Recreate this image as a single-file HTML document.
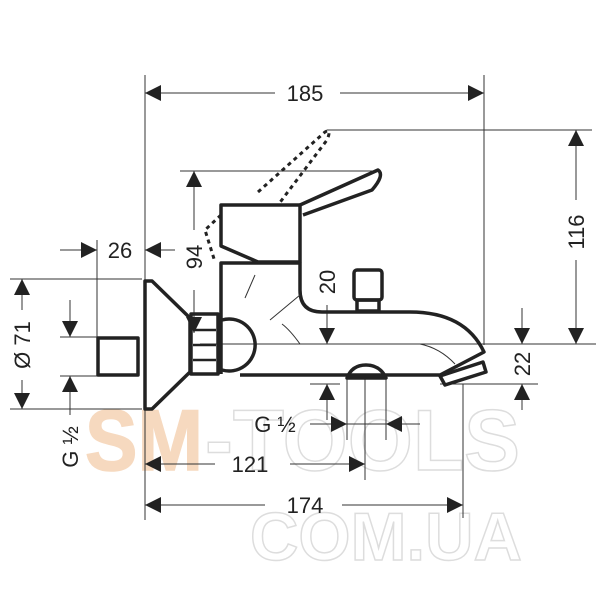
<!DOCTYPE html>
<html><head><meta charset="utf-8"><style>html,body{margin:0;padding:0;background:#fff}svg{display:block}</style></head>
<body>
<svg width="600" height="600" viewBox="0 0 600 600" xmlns="http://www.w3.org/2000/svg" font-family="Liberation Sans, sans-serif">
<defs>
<marker id="a" viewBox="0 0 10 10" refX="10" refY="5" markerWidth="16" markerHeight="16" markerUnits="userSpaceOnUse" orient="auto"><path d="M0,0L10,5L0,10z" fill="#222"/></marker>
</defs>
<!-- watermark -->
<g font-size="86" font-weight="bold" stroke-width="1.5">
<text x="85" y="470" fill="#f6d9bf" stroke="#f6d9bf" textLength="118" lengthAdjust="spacingAndGlyphs">SM</text>
<text x="205" y="470" fill="none" stroke="#ddd" textLength="315" lengthAdjust="spacingAndGlyphs">-TOOLS</text>
<text x="250" y="560" font-size="68" fill="none" stroke="#ddd" textLength="272" lengthAdjust="spacingAndGlyphs">COM.UA</text>
</g>
<g stroke="#333" stroke-width="1" fill="none">
<line x1="145" y1="75" x2="145" y2="520"/>
<line x1="484" y1="75" x2="484" y2="345"/>
<line x1="327" y1="130" x2="592" y2="130"/>
<line x1="200" y1="344" x2="596" y2="344"/>
<line x1="440" y1="384" x2="538" y2="384"/>
<line x1="180" y1="171" x2="380" y2="171"/>
<line x1="10" y1="279" x2="142" y2="279"/>
<line x1="10" y1="409" x2="142" y2="409"/>
<line x1="60" y1="337" x2="100" y2="337"/>
<line x1="60" y1="376" x2="100" y2="376"/>
<line x1="97" y1="240" x2="97" y2="337"/>
<line x1="347" y1="375" x2="347" y2="440"/>
<line x1="365" y1="375" x2="365" y2="480"/>
<line x1="386" y1="375" x2="386" y2="440"/>
<line x1="463" y1="384" x2="463" y2="518"/>
<line x1="310" y1="384" x2="340" y2="384"/>
<line x1="275" y1="93" x2="145" y2="93" marker-end="url(#a)"/>
<line x1="340" y1="93" x2="484" y2="93" marker-end="url(#a)"/>
<line x1="576" y1="200" x2="576" y2="130" marker-end="url(#a)"/>
<line x1="576" y1="260" x2="576" y2="344" marker-end="url(#a)"/>
<line x1="522" y1="308" x2="522" y2="344" marker-end="url(#a)"/>
<line x1="522" y1="410" x2="522" y2="384" marker-end="url(#a)"/>
<line x1="327" y1="305" x2="327" y2="344" marker-end="url(#a)"/>
<line x1="327" y1="420" x2="327" y2="384" marker-end="url(#a)"/>
<line x1="194" y1="230" x2="194" y2="171" marker-end="url(#a)"/>
<line x1="194" y1="290" x2="194" y2="333" marker-end="url(#a)"/>
<line x1="60" y1="250" x2="97" y2="250" marker-end="url(#a)"/>
<line x1="175" y1="250" x2="145" y2="250" marker-end="url(#a)"/>
<line x1="22" y1="310" x2="22" y2="279" marker-end="url(#a)"/>
<line x1="22" y1="380" x2="22" y2="409" marker-end="url(#a)"/>
<line x1="70" y1="300" x2="70" y2="337" marker-end="url(#a)"/>
<line x1="70" y1="415" x2="70" y2="376" marker-end="url(#a)"/>
<line x1="310" y1="424" x2="347" y2="424" marker-end="url(#a)"/>
<line x1="420" y1="424" x2="386" y2="424" marker-end="url(#a)"/>
<line x1="347" y1="424" x2="386" y2="424"/>
<line x1="215" y1="464" x2="145" y2="464" marker-end="url(#a)"/>
<line x1="290" y1="464" x2="365" y2="464" marker-end="url(#a)"/>
<line x1="265" y1="505" x2="145" y2="505" marker-end="url(#a)"/>
<line x1="342" y1="505" x2="463" y2="505" marker-end="url(#a)"/>
</g>
<g stroke="#222" stroke-width="3.5" fill="none" stroke-linejoin="round">
<rect x="98" y="338" width="40" height="37"/>
<path d="M145,281 L152,281 L190,318 L190,372 L152,409 L145,409 Z"/>
<rect x="191" y="314" width="27" height="60"/>
<path d="M193,330H216M193,345H216M193,360H216" stroke-width="2.5"/>
<path d="M221,374 V263 H300 V290 Q300,312 322,312 H410 Q465,312 484,352 L440,375 H240"/>
<path d="M222,320 A26,26 0 1 1 222,370"/>
<path d="M221,205 H300 V262 H258 L221,246 Z"/>
<path d="M300,205 L378,170 Q385,175 372,190 L303,215"/>
<rect x="354" y="270" width="28" height="30" rx="3"/>
<rect x="357" y="300" width="22" height="11"/>
<path d="M440,376 L483,362 L486,372 L445,385 Z"/>
<path d="M347,378 Q352,365 366,365 Q380,365 386,378 Z"/>
</g>
<g stroke="#222" stroke-width="3" fill="none" stroke-dasharray="4,4">
<path d="M258,192 L325,132 Q332,128 327,140 L278,205"/>
<path d="M221,215 L205,230 L215,262"/>
</g>
<g stroke="#333" stroke-width="1" fill="none">
<path d="M420,344 Q440,348 455,364"/>
<path d="M245,298 L255,275 M270,320 L300,295 M282,324 Q290,330 300,344"/>
</g>
<g fill="#222" font-size="22">
<text x="305" y="101" text-anchor="middle">185</text>
<text x="120" y="258" text-anchor="middle">26</text>
<text x="250" y="472" text-anchor="middle">121</text>
<text x="305" y="513" text-anchor="middle">174</text>
<text x="275" y="432" text-anchor="middle">G ½</text>
<text transform="translate(584,232) rotate(-90)" text-anchor="middle">116</text>
<text transform="translate(530,364) rotate(-90)" text-anchor="middle">22</text>
<text transform="translate(335,282) rotate(-90)" text-anchor="middle">20</text>
<text transform="translate(202,257) rotate(-90)" text-anchor="middle">94</text>
<text transform="translate(30,345) rotate(-90)" text-anchor="middle">Ø 71</text>
<text transform="translate(78,447) rotate(-90)" text-anchor="middle">G ½</text>
</g>
</svg>
</body></html>
